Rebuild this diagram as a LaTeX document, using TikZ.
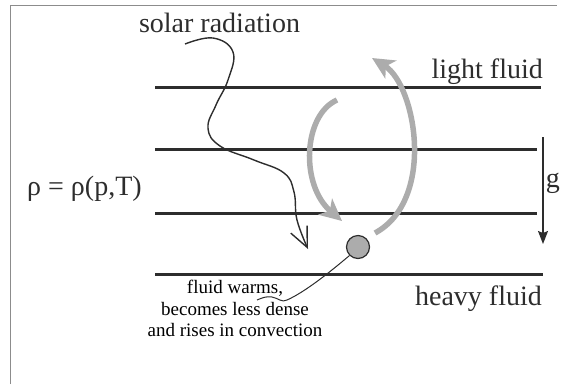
\documentclass[tikz,border=0pt]{standalone}
\usepackage{fontspec}
\setmainfont{Liberation Serif}
\usetikzlibrary{arrows.meta}
\definecolor{ink}{RGB}{45,45,45}
\definecolor{flow}{RGB}{172,172,172}
\definecolor{framec}{RGB}{140,140,140}
\begin{document}
\begin{tikzpicture}[x=1pt,y=-1pt,
  layer/.style={draw=ink,line width=3pt},
  big/.style={font=\fontsize{28}{32}\selectfont,text=ink,inner sep=0pt},
  small/.style={font=\fontsize{19}{21.5}\selectfont,text=black,inner sep=0pt,align=center},
  flowarrow/.style={draw=flow,line width=5.5pt,-{Stealth[length=22pt,width=21pt,inset=6pt]}},
  ray/.style={draw=ink,line width=1.4pt,-{Straight Barb[length=20pt,width=18pt,line width=1.4pt]}}]
\useasboundingbox (0,0) rectangle (561,384);
% frame
\coordinate (fbl) at (10,384);
\coordinate (ftl) at (10,5);
\coordinate (ftr) at (557,5);
\draw[framec,line width=1pt] (fbl) -- (ftl) -- (ftr);
% layers
\coordinate (l1a) at (155,87);  \coordinate (l1b) at (541,87);
\coordinate (l2a) at (155,149); \coordinate (l2b) at (537,149);
\coordinate (l3a) at (155,213); \coordinate (l3b) at (537,213);
\coordinate (l4a) at (155,274); \coordinate (l4b) at (543,274);
\draw[layer] (l1a) -- (l1b);
\draw[layer] (l2a) -- (l2b);
\draw[layer] (l3a) -- (l3b);
\draw[layer] (l4a) -- (l4b);
% labels
\node[big,anchor=base] (solar) at (219.5,32) {solar radiation};
\node[big,anchor=base east] (light) at (543,78) {light fluid};
\node[big,anchor=base east] (heavy) at (542,305) {heavy fluid};
\node[big,anchor=base west] (rho) at (27,195) {ρ = ρ(p,T)};
\node[big,anchor=base east] (g) at (560,187) {g};
\node[small,anchor=north] (note) at (235,280) {fluid warms,\\becomes less dense\\and rises in convection};
% gravity arrow
\coordinate (gtop) at (543,137);
\coordinate (gbot) at (543,244);
\draw[ink,line width=1.3pt,-{Stealth[length=13pt,width=10pt,inset=2pt]}] (gtop) -- (gbot);
% solar ray
\draw[ray] plot[smooth,tension=0.7] coordinates {(185,44) (213,38) (233,52) (228,80) (216,105) (208,128) (220,146) (254,160) (284,173) (294,192) (297,220) (308,249)};
% parcel
\node[circle,fill=flow,draw=ink,line width=1.2pt,minimum size=23pt,inner sep=0pt] (parcel) at (358,247) {};
% convection arrows
\coordinate (dstart) at (337,100);
\coordinate (dend) at (342,221);
\draw[flowarrow] (dstart) .. controls (303,115) and (300,185) .. (dend);
\coordinate (ustart) at (375,233);
\coordinate (uend) at (372,58);
\draw[flowarrow] (ustart) .. controls (436,200) and (416,85) .. (uend);
% leader
\coordinate (lend) at (257,300);
\draw[ink,line width=1pt] (parcel.225) .. controls (330,272) and (305,292) .. (287,300)
  .. controls (282,303) and (278,298) .. (272,297) .. controls (266,296) and (262,298) .. (lend);
\end{tikzpicture}
\end{document}
